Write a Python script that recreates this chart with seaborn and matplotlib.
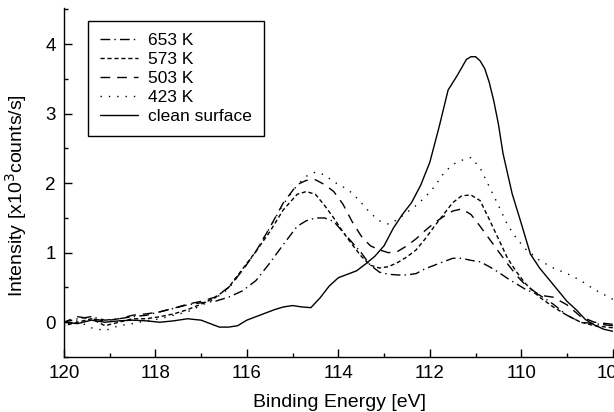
import matplotlib
matplotlib.use("Agg")
import matplotlib.pyplot as plt
from matplotlib.ticker import MultipleLocator
import pandas as pd
import seaborn as sns

# binding energy grid (eV) shared by the annealed-sample spectra
E_GRID = [120, 119.7, 119.4, 119.1, 118.8, 118.5, 118.2, 117.9, 117.6, 117.3,
          117.0, 116.7, 116.4, 116.1, 115.8, 115.5, 115.2, 114.9, 114.7, 114.5,
          114.3, 114.1, 113.9, 113.7, 113.5, 113.3, 113.1, 112.9, 112.7, 112.5,
          112.3, 112.1, 111.9, 111.7, 111.5, 111.3, 111.1, 110.9, 110.7, 110.5,
          110.3, 110.1, 109.9, 109.6, 109.3, 109.0, 108.7, 108.4, 108.0]

I_653 = [0.0, 0.05, 0.08, 0.03, 0.05, 0.08, 0.1, 0.15, 0.2, 0.25,
         0.28, 0.3, 0.36, 0.45, 0.6, 0.85, 1.12, 1.38, 1.46, 1.5,
         1.5, 1.45, 1.3, 1.15, 1.0, 0.82, 0.72, 0.69, 0.68, 0.68,
         0.7, 0.77, 0.82, 0.87, 0.92, 0.92, 0.89, 0.87, 0.8, 0.72,
         0.63, 0.55, 0.47, 0.39, 0.26, 0.1, 0.0, -0.02, -0.05]

I_573 = [-0.05, 0.0, 0.05, -0.05, 0.0, 0.05, 0.05, 0.08, 0.12, 0.18,
         0.26, 0.35, 0.5, 0.76, 1.02, 1.3, 1.62, 1.84, 1.88, 1.84,
         1.68, 1.5, 1.3, 1.12, 0.95, 0.82, 0.78, 0.8, 0.86, 0.94,
         1.04, 1.2, 1.38, 1.55, 1.72, 1.82, 1.83, 1.75, 1.48, 1.2,
         0.92, 0.72, 0.55, 0.36, 0.22, 0.1, 0.0, -0.05, -0.08]

I_503 = [0.0, 0.08, 0.05, 0.02, 0.05, 0.1, 0.12, 0.15, 0.2, 0.26,
         0.3, 0.36, 0.5, 0.74, 1.02, 1.36, 1.72, 1.98, 2.04, 2.05,
         1.98, 1.88, 1.7, 1.45, 1.24, 1.1, 1.04, 1.0, 1.02, 1.1,
         1.2, 1.32, 1.43, 1.52, 1.6, 1.63, 1.55, 1.38, 1.2, 1.02,
         0.84, 0.67, 0.53, 0.39, 0.36, 0.25, 0.08, 0.0, -0.03]

I_423 = [-0.03, 0.02, -0.08, -0.12, -0.05, -0.02, 0.02, 0.05, 0.1, 0.15,
         0.24, 0.34, 0.48, 0.74, 1.02, 1.36, 1.7, 1.97, 2.1, 2.16,
         2.12, 2.02, 1.95, 1.86, 1.72, 1.57, 1.46, 1.41, 1.48, 1.58,
         1.68, 1.8, 1.95, 2.14, 2.27, 2.33, 2.37, 2.22, 1.95, 1.68,
         1.4, 1.2, 1.05, 0.89, 0.78, 0.7, 0.6, 0.47, 0.33]

# clean surface sampled more finely around the main peak
E_CLEAN = [120, 119.7, 119.4, 119.1, 118.8, 118.5, 118.2, 117.9, 117.6, 117.3,
           117.0, 116.8, 116.6, 116.4, 116.2, 116.0, 115.8, 115.6, 115.4, 115.2,
           115.0, 114.8, 114.6, 114.4, 114.2, 114.0, 113.8, 113.6, 113.4, 113.2,
           113.0, 112.8, 112.6, 112.4, 112.2, 112.0, 111.8, 111.6, 111.4, 111.2,
           111.1, 111.0, 110.9, 110.8, 110.7, 110.6, 110.5, 110.4, 110.2, 110.0,
           109.8, 109.6, 109.4, 109.2, 109.0, 108.8, 108.6, 108.4, 108.2, 108.0]
I_CLEAN = [0.0, -0.02, 0.03, 0.0, 0.02, 0.03, 0.02, 0.0, 0.02, 0.05,
           0.03, -0.02, -0.07, -0.07, -0.05, 0.03, 0.08, 0.13, 0.18, 0.22,
           0.24, 0.22, 0.21, 0.35, 0.52, 0.64, 0.69, 0.74, 0.84, 0.95,
           1.1, 1.35, 1.55, 1.72, 1.97, 2.3, 2.8, 3.34, 3.55, 3.78,
           3.82, 3.82, 3.76, 3.65, 3.45, 3.18, 2.85, 2.43, 1.85, 1.42,
           0.98, 0.78, 0.62, 0.46, 0.3, 0.18, 0.04, -0.04, -0.1, -0.13]

LABELS = ["653 K", "573 K", "503 K", "423 K", "clean surface"]
DASHES = {
    "653 K": (7, 3, 1, 3),
    "573 K": (3, 2),
    "503 K": (7, 5),
    "423 K": (1, 5),
    "clean surface": "",
}

frames = []
for lab, ys in zip(LABELS[:4], [I_653, I_573, I_503, I_423]):
    frames.append(pd.DataFrame({"E": E_GRID, "I": ys, "sample": lab}))
frames.append(pd.DataFrame({"E": E_CLEAN, "I": I_CLEAN, "sample": "clean surface"}))
df = pd.concat(frames, ignore_index=True)

sns.set_style("ticks")
plt.rcParams["font.family"] = ["Liberation Sans", "DejaVu Sans"]
plt.rcParams["text.color"] = "black"
plt.rcParams["axes.labelcolor"] = "black"

fig = plt.figure(figsize=(6.14, 4.12), dpi=100)
ax = fig.add_axes([0.104, 0.1335, 0.894, 0.847])

sns.lineplot(
    data=df, x="E", y="I", hue="sample", style="sample",
    hue_order=LABELS, style_order=LABELS,
    palette={k: "black" for k in LABELS}, dashes=DASHES,
    linewidth=1.0, estimator=None, sort=True, ax=ax,
)

ax.set_xlim(120, 108)
ax.set_ylim(-0.5, 4.52)
ax.xaxis.set_major_locator(MultipleLocator(2))
ax.xaxis.set_minor_locator(MultipleLocator(1))
ax.yaxis.set_major_locator(MultipleLocator(1))
ax.yaxis.set_minor_locator(MultipleLocator(0.5))
ax.tick_params(which="both", direction="in", width=1.0, labelsize=13.5, colors="black")
ax.tick_params(which="major", length=5.5, pad=6)
ax.tick_params(which="minor", length=3)
for side in ["top", "right"]:
    ax.spines[side].set_visible(False)
for side in ["left", "bottom"]:
    ax.spines[side].set_linewidth(1.0)
    ax.spines[side].set_color("black")

ax.set_xlabel("Binding Energy [eV]", fontsize=14)
ax.set_ylabel("Intensity [x10$^3$counts/s]", fontsize=14)
ax.xaxis.set_label_coords(0.503, -0.107)
ax.yaxis.set_label_coords(-0.064, 0.464)

handles, labels = ax.get_legend_handles_labels()
leg = ax.legend(handles, labels, loc="upper left", bbox_to_anchor=(0.044, 0.963),
                frameon=True, fancybox=False, edgecolor="black", framealpha=1,
                fontsize=12.5, handlelength=2.2, handletextpad=0.55,
                labelspacing=0.22, borderpad=0.7, borderaxespad=0)
leg.get_frame().set_linewidth(1.0)

fig.savefig("out.png", dpi=100)
